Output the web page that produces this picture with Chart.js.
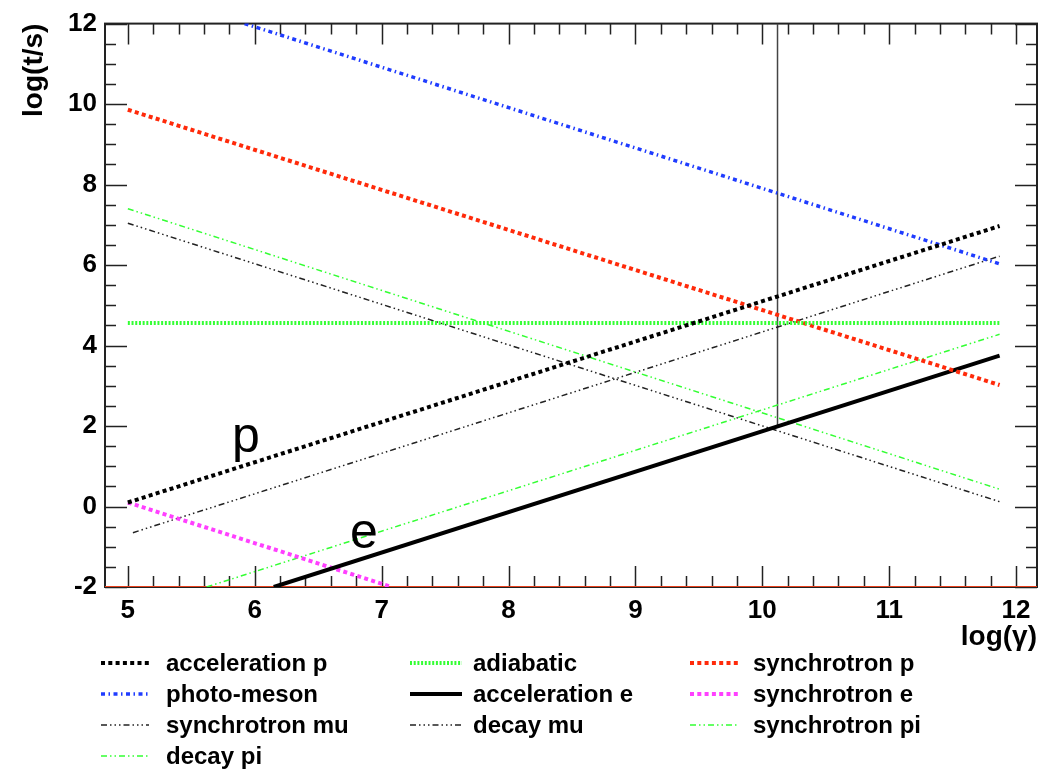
<!DOCTYPE html>
<html>
<head>
<meta charset="utf-8">
<title>log(t/s) vs log(gamma)</title>
<script src="https://cdn.jsdelivr.net/npm/chart.js@4.4.1/dist/chart.umd.min.js"></script>
<style>
  body { margin: 0; background: #fff; }
  #Grafico { display: block; }
</style>
</head>
<body>
<canvas id="Grafico" width="1043" height="769"></canvas>
<script>
// end points of each time scale, log(gamma) -> log(t/s)
const accelP_x = [5.0, 11.87];
const accelP_y = [0.1, 6.97];
const adiabatic_x = [5.0, 11.87];
const adiabatic_y = [4.56, 4.56];
const synchP_x = [5.0, 11.87];
const synchP_y = [9.86, 3.02];
const photoMeson_x = [5.92, 11.87];
const photoMeson_y = [12.0, 6.03];
const accelE_x = [6.15, 11.87];
const accelE_y = [-2.0, 3.75];
const synchE_x = [5.0, 7.08];
const synchE_y = [0.1, -2.0];
const synchMu_x = [5.0, 11.87];
const synchMu_y = [7.04, 0.12];
const decayMu_x = [5.04, 11.87];
const decayMu_y = [-0.65, 6.22];
const synchPi_x = [5.0, 11.87];
const synchPi_y = [7.4, 0.43];
const decayPi_x = [5.62, 11.87];
const decayPi_y = [-2.0, 4.28];

// vertical marker and floor line
const marker_x = [10.12, 10.12];
const marker_y = [12.0, 1.95];
const floor_x = [4.82, 12.165];
const floor_y = [-2.0, -2.0];

// tick labels
const xTicks = [5, 6, 7, 8, 9, 10, 11, 12];
const yTicks = [-2, 0, 2, 4, 6, 8, 10, 12];

// particle labels
const particleText = ['p', 'e'];
const particle_x = [5.82, 6.75];
const particle_y = [1.36, -1.04];

const FONT = "'Liberation Sans', Arial, Helvetica, sans-serif";

function puntos(xs, ys) {
  return xs.map((x, i) => ({ x: x, y: ys[i] }));
}

function serie(label, xs, ys, color, width, dash) {
  return {
    label: label,
    data: puntos(xs, ys),
    borderColor: color,
    backgroundColor: color,
    borderWidth: width,
    borderDash: dash,
    borderCapStyle: 'butt',
    showLine: true,
    pointRadius: 0,
    fill: false
  };
}

const datasets = [
  serie('acceleration p', accelP_x, accelP_y, '#000000', 4, [4, 3.3]),
  serie('adiabatic', adiabatic_x, adiabatic_y, '#33ff33', 4, [2, 1.7]),
  serie('synchrotron p', synchP_x, synchP_y, '#ff2a0a', 4, [4, 3.3]),
  serie('photo-meson', photoMeson_x, photoMeson_y, '#1f3cff', 3.5, [4, 3.5, 1.5, 3.5]),
  serie('acceleration e', accelE_x, accelE_y, '#000000', 4, []),
  serie('synchrotron e', synchE_x, synchE_y, '#ff40ff', 4, [4, 3.3]),
  serie('synchrotron mu', synchMu_x, synchMu_y, '#222222', 1.5, [6, 3, 1.5, 3, 1.5, 3, 1.5, 3]),
  serie('decay mu', decayMu_x, decayMu_y, '#222222', 1.5, [6, 3, 1.5, 3, 1.5, 3, 1.5, 3]),
  serie('synchrotron pi', synchPi_x, synchPi_y, '#33ff33', 1.5, [6, 3, 1.5, 3, 1.5, 3]),
  serie('decay pi', decayPi_x, decayPi_y, '#33ff33', 1.5, [6, 3, 1.5, 3, 1.5, 3])
];
const nLeyenda = datasets.length;

let linea = serie('', marker_x, marker_y, '#444444', 1.5, []);
datasets.push(linea);
let piso = serie('', floor_x, floor_y, '#e8401c', 2, []);
datasets.push(piso);

// frame with inward ticks on all four sides, plus titles
const marco = {
  id: 'marco',
  beforeDatasetsDraw(chart) {
    const ctx = chart.ctx;
    const a = chart.chartArea;
    const xs = chart.scales.x;
    const ys = chart.scales.y;
    ctx.save();
    ctx.strokeStyle = '#222';
    ctx.lineWidth = 2;
    ctx.strokeRect(a.left, a.top, a.right - a.left, a.bottom - a.top);
    ctx.lineWidth = 1.5;
    ctx.beginPath();
    for (let v = 5; v <= 12.0001; v += 0.2) {
      const px = Math.round(xs.getPixelForValue(v)) + 0.5;
      const largo = Math.abs(v - Math.round(v)) < 0.01 ? 21 : 11;
      ctx.moveTo(px, a.bottom); ctx.lineTo(px, a.bottom - largo);
      ctx.moveTo(px, a.top); ctx.lineTo(px, a.top + largo);
    }
    for (let v = -2; v <= 12.0001; v += 0.5) {
      const py = Math.round(ys.getPixelForValue(v)) + 0.5;
      const largo = Math.abs(v / 2 - Math.round(v / 2)) < 0.01 ? 22 : 11;
      ctx.moveTo(a.left, py); ctx.lineTo(a.left + largo, py);
      ctx.moveTo(a.right, py); ctx.lineTo(a.right - largo, py);
    }
    ctx.stroke();
    ctx.restore();
  },
  afterDraw(chart) {
    const ctx = chart.ctx;
    const a = chart.chartArea;
    const xs = chart.scales.x;
    const ys = chart.scales.y;
    ctx.save();
    ctx.fillStyle = '#000';

    // axis titles
    ctx.font = 'bold 28px ' + FONT;
    ctx.textAlign = 'right';
    ctx.textBaseline = 'alphabetic';
    ctx.fillText('log(\u03b3)', a.right, 645);
    ctx.translate(42, a.top);
    ctx.rotate(-Math.PI / 2);
    ctx.fillText('log(t/s)', 0, 0);
    ctx.setTransform(1, 0, 0, 1, 0, 0);

    // particle labels
    ctx.font = '50px ' + FONT;
    ctx.textAlign = 'left';
    particleText.forEach((t, i) => {
      ctx.fillText(t, xs.getPixelForValue(particle_x[i]), ys.getPixelForValue(particle_y[i]));
    });

    // legend, three columns
    const colLinea = [[101, 149], [410, 462], [690, 738]];
    const colTexto = [166, 473, 753];
    const filas = [663, 694, 725, 756];
    ctx.font = 'bold 24px ' + FONT;
    ctx.textBaseline = 'middle';
    for (let i = 0; i < nLeyenda; i++) {
      const ds = chart.data.datasets[i];
      const c = i % 3;
      const y = filas[Math.floor(i / 3)];
      ctx.beginPath();
      ctx.strokeStyle = ds.borderColor;
      ctx.lineWidth = ds.borderWidth;
      ctx.setLineDash(ds.borderDash);
      ctx.moveTo(colLinea[c][0], y);
      ctx.lineTo(colLinea[c][1], y);
      ctx.stroke();
      ctx.setLineDash([]);
      ctx.fillStyle = '#000';
      ctx.fillText(ds.label, colTexto[c], y + 1);
    }
    ctx.restore();
  }
};

const config = {
  type: 'scatter',
  data: { datasets: datasets },
  options: {
    responsive: false,
    animation: false,
    devicePixelRatio: 1,
    layout: { padding: { top: 16, right: 6, left: 0, bottom: 0 } },
    plugins: {
      legend: { display: false },
      tooltip: { enabled: false }
    },
    scales: {
      x: {
        type: 'linear',
        min: 4.82,
        max: 12.165,
        afterBuildTicks: scale => { scale.ticks = xTicks.map(v => ({ value: v })); },
        afterFit: scale => { scale.height = 182; },
        grid: { display: false, drawTicks: false },
        border: { display: false },
        ticks: {
          padding: 8,
          color: '#000',
          font: { family: FONT, size: 26, weight: 'bold' },
          maxRotation: 0
        }
      },
      y: {
        type: 'linear',
        min: -2,
        max: 12,
        afterBuildTicks: scale => { scale.ticks = yTicks.map(v => ({ value: v })); },
        afterFit: scale => { scale.width = 105; },
        grid: { display: false, drawTicks: false },
        border: { display: false },
        ticks: {
          padding: 8,
          color: '#000',
          font: { family: FONT, size: 26, weight: 'bold' }
        }
      }
    }
  },
  plugins: [marco]
};

const myChart = new Chart(document.getElementById('Grafico'), config);
</script>
</body>
</html>
